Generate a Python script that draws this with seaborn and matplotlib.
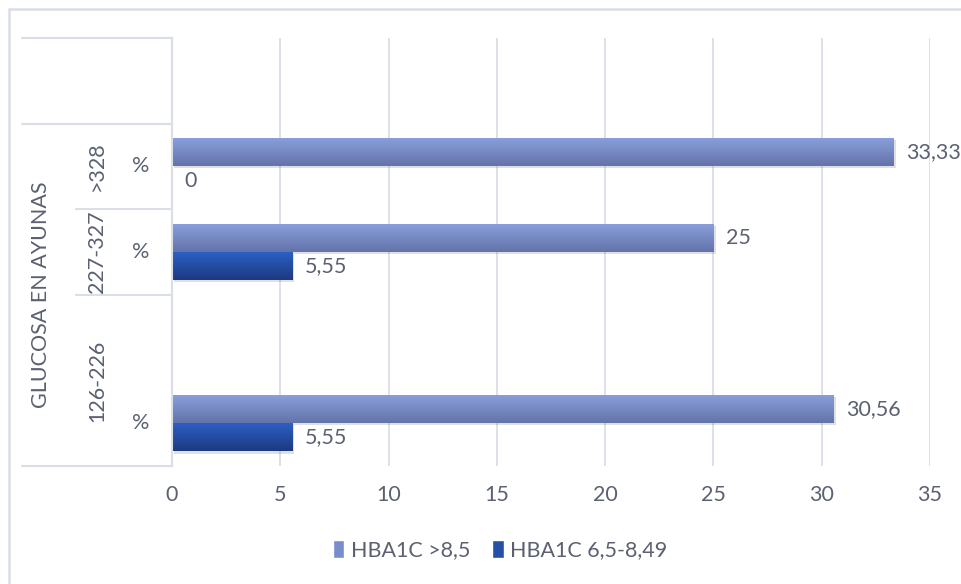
import numpy as np
import pandas as pd
import matplotlib
matplotlib.use("Agg")
import matplotlib.pyplot as plt
import matplotlib.patheffects as pe
from matplotlib.colors import LinearSegmentedColormap
from matplotlib.lines import Line2D
from matplotlib.patches import Patch
import seaborn as sns

# --- data -------------------------------------------------------------
groups = [">328", "227-327", "126-226"]
series = ["HBA1C >8,5", "HBA1C 6,5-8,49"]
hba1c_high = [33.33, 25, 30.56]      # HBA1C >8,5
hba1c_mid = [0, 5.55, 5.55]          # HBA1C 6,5-8,49
unit_label = "%"
axis_title = "GLUCOSA EN AYUNAS"
x_ticks = [0, 5, 10, 15, 20, 25, 30, 35]

# category slots from top to bottom (two empty slots, as in the worksheet)
slots = ["blank_top", ">328", "227-327", "126-226_blank", "126-226"]

rows = []
for g, a, b in zip(groups, hba1c_high, hba1c_mid):
    rows.append({"slot": g, "serie": series[0], "valor": a})
    rows.append({"slot": g, "serie": series[1], "valor": b})
df = pd.DataFrame(rows)

# --- style ------------------------------------------------------------
sns.set_theme(style="white")
plt.rcParams["font.family"] = ["Lato", "DejaVu Sans"]
text_color = "#5A6170"
grid_color = "#D9DEE7"
light_col = "#7A8DCB"
dark_col = "#2650A8"
FS = 15.5

W, H = 962, 584
fig = plt.figure(figsize=(W / 100, H / 100), dpi=100)
ax_left, ax_right, ax_top, ax_bottom = 172, 930, 38, 466
ax = fig.add_axes([ax_left / W, 1 - ax_bottom / H,
                   (ax_right - ax_left) / W, (ax_bottom - ax_top) / H])

sns.barplot(data=df, y="slot", x="valor", hue="serie", order=slots,
            hue_order=series, palette=[light_col, dark_col], width=0.66,
            orient="h", ax=ax, legend=False, errorbar=None, saturation=1,
            linewidth=0)

ax.set_xlim(0, 35)
ax.set_ylim(len(slots) - 0.5, -0.5)
ax.set_xticks(x_ticks)
ax.set_xticklabels([str(t) for t in x_ticks], fontsize=FS, color=text_color)
ax.tick_params(axis="x", length=0, pad=14)
ax.set_yticks([])
ax.set_xlabel("")
ax.set_ylabel("")
ax.grid(axis="x", color=grid_color, linewidth=1.3)
ax.set_axisbelow(True)
for s in ["top", "right", "bottom"]:
    ax.spines[s].set_visible(False)
ax.spines["left"].set_color(grid_color)
ax.spines["left"].set_linewidth(1.5)

# --- gradient fill and soft shadow on the bars ------------------------
grads = {
    light_col: LinearSegmentedColormap.from_list("g1", ["#8A9FDC", "#6474AA"]),
    dark_col: LinearSegmentedColormap.from_list("g2", ["#2C60C6", "#1C3A80"]),
}
grad = np.linspace(0, 1, 64).reshape(-1, 1)
for cont, col in zip(ax.containers, [light_col, dark_col]):
    for p in cont.patches:
        w = p.get_width()
        if not np.isfinite(w) or w <= 0:
            continue
        p.set_linewidth(0)
        p.set_path_effects([pe.SimplePatchShadow(offset=(1.5, -1.5), alpha=0.18,
                                                 shadow_rgbFace="#555555"),
                            pe.Normal()])
        x0, y0, h = p.get_x(), p.get_y(), p.get_height()
        im = ax.imshow(grad, cmap=grads[col], aspect="auto",
                       extent=[x0, x0 + w, y0 + h, y0], zorder=p.get_zorder() + 0.1,
                       interpolation="bicubic")
        im.set_clip_path(p)
ax.set_xlim(0, 35)
ax.set_ylim(len(slots) - 0.5, -0.5)
ax.set_aspect("auto")

# value labels with decimal comma
for cont in ax.containers:
    labels = [f"{v:g}".replace(".", ",") for v in cont.datavalues]
    ax.bar_label(cont, labels=labels, padding=9, fontsize=FS, color=text_color,
                 clip_on=False)

# --- multi-level category axis ----------------------------------------
def ax_x(px):
    return (px - ax_left) / (ax_right - ax_left)

tr = ax.get_yaxis_transform()
line_kw = dict(color=grid_color, linewidth=1.5, transform=tr, clip_on=False)
for yb, xs in [(-0.5, 22), (0.5, 22), (1.5, 76), (2.5, 76), (4.5, 22)]:
    ax.add_line(Line2D([ax_x(xs), 0], [yb, yb], **line_kw))

for i, name in enumerate(slots):
    if name in groups:
        ax.text(ax_x(141), i, unit_label, transform=tr, ha="center", va="center",
                fontsize=FS, color=text_color)
level2 = {">328": 1, "227-327": 2, "126-226": 3.5}
for name, yc in level2.items():
    ax.text(ax_x(97), yc, name, transform=tr, ha="center", va="center",
            rotation=90, fontsize=FS, color=text_color)
ax.text(ax_x(41), 2.5, axis_title, transform=tr, ha="center", va="center",
        rotation=90, fontsize=FS, color=text_color)

# chart frame edges
fig.add_artist(Line2D([9 / W, 1], [1 - 9 / H, 1 - 9 / H], color=grid_color,
                      linewidth=1.8, transform=fig.transFigure))
fig.add_artist(Line2D([9 / W, 9 / W], [0, 1 - 9 / H], color=grid_color,
                      linewidth=1.8, transform=fig.transFigure))

# legend
handles = [Patch(facecolor=light_col), Patch(facecolor=dark_col)]
fig.legend(handles, series, loc="center", bbox_to_anchor=(500 / W, 1 - 550 / H),
           ncol=2, frameon=False, fontsize=FS, labelcolor=text_color,
           handlelength=0.55, handleheight=0.9, handletextpad=0.3,
           columnspacing=1.0)

fig.savefig("out.png", dpi=100)
